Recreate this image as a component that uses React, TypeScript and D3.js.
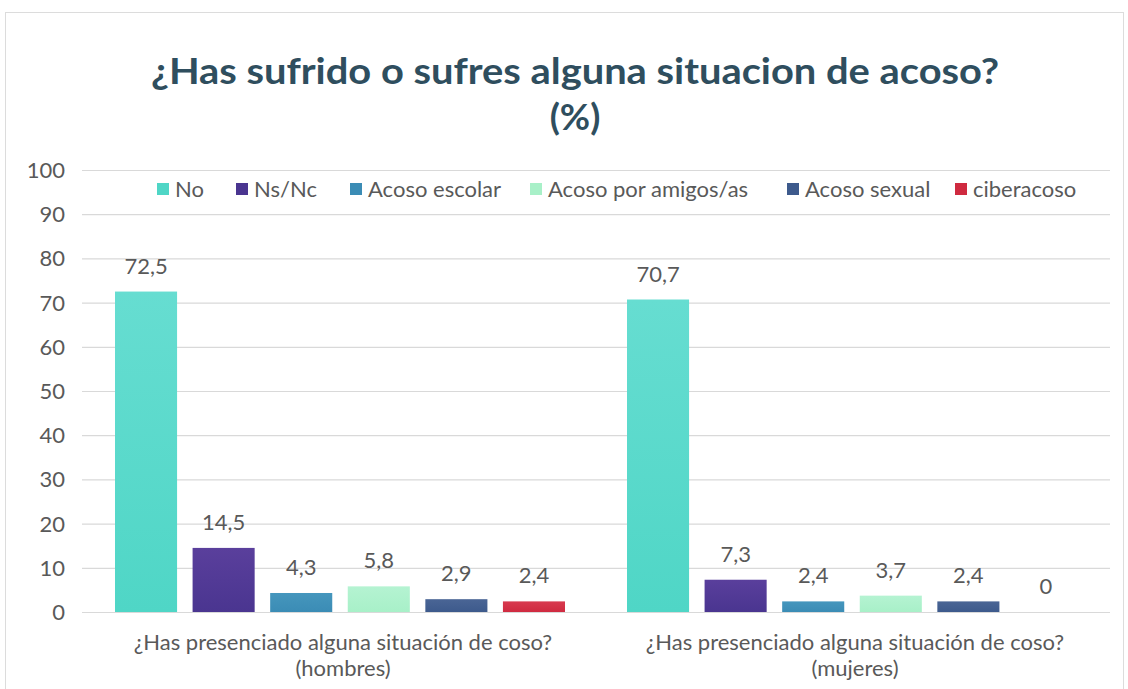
import React, { useEffect, useRef } from 'react';
import * as d3 from 'd3';

const categories = ['¿Has presenciado alguna situación de coso?|(hombres)', '¿Has presenciado alguna situación de coso?|(mujeres)'];
const seriesNames = ['No', 'Ns/Nc', 'Acoso escolar', 'Acoso por amigos/as', 'Acoso sexual', 'ciberacoso'];
const hombres = [72.5, 14.5, 4.3, 5.8, 2.9, 2.4];
const mujeres = [70.7, 7.3, 2.4, 3.7, 2.4, 0];
const yTicks = [0, 10, 20, 30, 40, 50, 60, 70, 80, 90, 100];
const colors = ['#4fd6c6', '#4a3590', '#3b8cb5', '#a8f0c8', '#3d5a8c', '#cf2a40'];
const colorsTop = ['#66ddd1', '#5a3f9c', '#4596bd', '#b5f3d2', '#4a6595', '#d83a4f'];
const legendX = [157, 236, 350, 530, 787, 955];

const App = () => {
  const ref = useRef<SVGSVGElement>(null);

  useEffect(() => {
    const width = 1128;
    const height = 689;
    const svg = d3.select(ref.current);
    svg.selectAll('*').remove();

    const values = [hombres, mujeres];
    const font = 'Lato, "Open Sans", sans-serif';

    // gradients for the bars
    const defs = svg.append('defs');
    colors.forEach((c, i) => {
      const g = defs.append('linearGradient')
        .attr('id', 'g' + i).attr('x1', 0).attr('y1', 0).attr('x2', 0).attr('y2', 1);
      g.append('stop').attr('offset', '0%').attr('stop-color', colorsTop[i]);
      g.append('stop').attr('offset', '100%').attr('stop-color', c);
    });

    svg.append('rect').attr('width', width).attr('height', height).attr('fill', '#fff');
    svg.append('rect')
      .attr('x', 5.5).attr('y', 12.5).attr('width', 1118).attr('height', 700)
      .attr('fill', 'none').attr('stroke', '#dcdcdc');

    // title
    svg.append('text')
      .attr('x', 575).attr('y', 84).attr('text-anchor', 'middle')
      .attr('font-family', font).attr('font-weight', 'bold').attr('font-size', 37)
      .attr('textLength', 848).attr('lengthAdjust', 'spacingAndGlyphs')
      .attr('fill', '#2f4e5e')
      .text('¿Has sufrido o sufres alguna situacion de acoso?');
    svg.append('text')
      .attr('x', 575).attr('y', 130).attr('text-anchor', 'middle')
      .attr('font-family', font).attr('font-weight', 'bold').attr('font-size', 37)
      .attr('fill', '#2f4e5e')
      .text('(%)');

    const y = d3.scaleLinear().domain([0, 100]).range([612, 170]);
    const x0 = d3.scaleBand().domain(categories).range([84, 1108]).padding(0);
    const x1 = d3.scaleBand().domain(seriesNames).range([-225, 225]).paddingInner(0.2).paddingOuter(0);

    // grid
    svg.append('g').selectAll('line').data(yTicks).join('line')
      .attr('x1', 82).attr('x2', 1110)
      .attr('y1', d => y(d) + 0.5).attr('y2', d => y(d) + 0.5)
      .attr('stroke', '#d9d9d9').attr('stroke-width', 1.2);

    // y labels
    svg.append('g').selectAll('text').data(yTicks).join('text')
      .attr('x', 65).attr('y', d => y(d) + 8).attr('text-anchor', 'end')
      .attr('font-family', font).attr('font-size', 22).attr('fill', '#595959')
      .text(d => d);

    // bars
    categories.forEach((cat, ci) => {
      const cx = x0(cat)! + x0.bandwidth() / 2;
      const g = svg.append('g').attr('transform', `translate(${cx},0)`);
      g.selectAll('rect').data(values[ci]).join('rect')
        .attr('x', (d, i) => x1(seriesNames[i])!)
        .attr('width', x1.bandwidth())
        .attr('y', d => y(d))
        .attr('height', d => y(0) - y(d))
        .attr('fill', (d, i) => `url(#g${i})`);
      g.selectAll('text').data(values[ci]).join('text')
        .attr('x', (d, i) => x1(seriesNames[i])! + x1.bandwidth() / 2)
        .attr('y', d => y(d) - 18)
        .attr('text-anchor', 'middle')
        .attr('font-family', font).attr('font-size', 22).attr('fill', '#595959')
        .text(d => String(d).replace('.', ','));

      const lines = cat.split('|');
      lines.forEach((l, li) => {
        svg.append('text')
          .attr('x', cx + 3).attr('y', 650 + li * 26).attr('text-anchor', 'middle')
          .attr('font-family', font).attr('font-size', 22).attr('fill', '#595959')
          .text(l);
      });
    });

    // legend
    seriesNames.forEach((s, i) => {
      svg.append('rect')
        .attr('x', legendX[i]).attr('y', 183).attr('width', 12).attr('height', 12)
        .attr('fill', colors[i]);
      svg.append('text')
        .attr('x', legendX[i] + 18).attr('y', 197)
        .attr('font-family', font).attr('font-size', 22).attr('fill', '#595959')
        .text(s);
    });
  }, []);

  return (
    <svg ref={ref} width={1128} height={689} style={{ position: 'absolute', left: 0, top: 0 }} />
  );
};

export default App;
